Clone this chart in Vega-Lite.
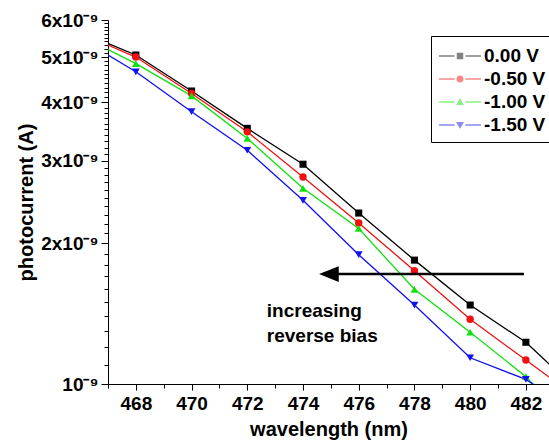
{
  "$schema": "https://vega.github.io/schema/vega-lite/v6.json",
  "width": 441,
  "height": 364,
  "autosize": {"type": "none"},
  "padding": {"left": 108, "top": 20, "right": 0, "bottom": 62},
  "background": "white",
  "config": {
    "view": {"stroke": null},
    "font": "Liberation Sans",
    "axis": {
      "grid": false,
      "domainColor": "black",
      "domainWidth": 1,
      "tickColor": "black",
      "tickWidth": 1,
      "labelColor": "black",
      "titleColor": "black",
      "labelFont": "Liberation Sans",
      "titleFont": "Liberation Sans",
      "labelFontSize": 19,
      "labelFontWeight": "bold",
      "titleFontSize": 20,
      "titleFontWeight": "bold",
      "labelOverlap": false,
      "labelFlush": false
    }
  },
  "datasets": {
    "curves": [
      {"wl": 466, "I": 5.66e-9, "bias": "0.00 V"},
      {"wl": 468, "I": 5.05e-9, "bias": "0.00 V"},
      {"wl": 470, "I": 4.23e-9, "bias": "0.00 V"},
      {"wl": 472, "I": 3.52e-9, "bias": "0.00 V"},
      {"wl": 474, "I": 2.95e-9, "bias": "0.00 V"},
      {"wl": 476, "I": 2.32e-9, "bias": "0.00 V"},
      {"wl": 478, "I": 1.84e-9, "bias": "0.00 V"},
      {"wl": 480, "I": 1.475e-9, "bias": "0.00 V"},
      {"wl": 482, "I": 1.228e-9, "bias": "0.00 V"},
      {"wl": 484, "I": 0.95e-9, "bias": "0.00 V"},
      {"wl": 466, "I": 5.62e-9, "bias": "-0.50 V"},
      {"wl": 468, "I": 5.0e-9, "bias": "-0.50 V"},
      {"wl": 470, "I": 4.18e-9, "bias": "-0.50 V"},
      {"wl": 472, "I": 3.46e-9, "bias": "-0.50 V"},
      {"wl": 474, "I": 2.77e-9, "bias": "-0.50 V"},
      {"wl": 476, "I": 2.21e-9, "bias": "-0.50 V"},
      {"wl": 478, "I": 1.746e-9, "bias": "-0.50 V"},
      {"wl": 480, "I": 1.375e-9, "bias": "-0.50 V"},
      {"wl": 482, "I": 1.125e-9, "bias": "-0.50 V"},
      {"wl": 484, "I": 0.92e-9, "bias": "-0.50 V"},
      {"wl": 466, "I": 5.56e-9, "bias": "-1.00 V"},
      {"wl": 468, "I": 4.84e-9, "bias": "-1.00 V"},
      {"wl": 470, "I": 4.13e-9, "bias": "-1.00 V"},
      {"wl": 472, "I": 3.35e-9, "bias": "-1.00 V"},
      {"wl": 474, "I": 2.62e-9, "bias": "-1.00 V"},
      {"wl": 476, "I": 2.15e-9, "bias": "-1.00 V"},
      {"wl": 478, "I": 1.594e-9, "bias": "-1.00 V"},
      {"wl": 480, "I": 1.29e-9, "bias": "-1.00 V"},
      {"wl": 482, "I": 1.037e-9, "bias": "-1.00 V"},
      {"wl": 484, "I": 0.78e-9, "bias": "-1.00 V"},
      {"wl": 466, "I": 5.48e-9, "bias": "-1.50 V"},
      {"wl": 468, "I": 4.65e-9, "bias": "-1.50 V"},
      {"wl": 470, "I": 3.82e-9, "bias": "-1.50 V"},
      {"wl": 472, "I": 3.16e-9, "bias": "-1.50 V"},
      {"wl": 474, "I": 2.47e-9, "bias": "-1.50 V"},
      {"wl": 476, "I": 1.89e-9, "bias": "-1.50 V"},
      {"wl": 478, "I": 1.475e-9, "bias": "-1.50 V"},
      {"wl": 480, "I": 1.138e-9, "bias": "-1.50 V"},
      {"wl": 482, "I": 1.023e-9, "bias": "-1.50 V"},
      {"wl": 484, "I": 0.85e-9, "bias": "-1.50 V"}
    ],
    "arrowline": [
      {"wl": 475.1, "wl2": 481.93, "I": 1.718e-9}
    ],
    "arrowhead": [
      {"wl": 474.93, "I": 1.718e-9}
    ],
    "notes": [
      {"wl": 472.7, "I": 1.393e-9, "label": "increasing"},
      {"wl": 472.7, "I": 1.231e-9, "label": "reverse bias"}
    ]
  },
  "layer": [
    {
      "data": {"name": "curves"},
      "transform": [{"filter": "false"}],
      "mark": {"type": "point", "filled": true, "clip": true, "size": 576},
      "encoding": {
        "x": {
          "field": "wl",
          "type": "quantitative",
          "scale": {"domain": [467, 482.83], "nice": false, "zero": false},
          "axis": {
            "title": "wavelength (nm)",
            "tickCount": 16,
            "labelExpr": "abs(datum.value/2 - round(datum.value/2)) < 0.01 ? datum.label : ''",
            "tickSize": {"condition": {"test": "abs(datum.value/2 - round(datum.value/2)) < 0.01", "value": 6}, "value": 4},
            "labelPadding": 4,
            "titlePadding": 6
          }
        },
        "y": {
          "field": "I",
          "type": "quantitative",
          "scale": {"type": "log", "domain": [1e-9, 6e-9], "nice": false},
          "axis": {
            "title": "photocurrent (A)",
            "values": [1e-9, 1.1e-9, 1.2e-9, 1.3e-9, 1.4e-9, 1.5e-9, 1.6e-9, 1.7e-9, 1.8e-9, 1.9e-9, 2e-9, 2.1e-9, 2.2e-9, 2.3e-9, 2.4e-9, 2.5e-9, 2.6e-9, 2.7e-9, 2.8e-9, 2.9e-9, 3e-9, 3.1e-9, 3.2e-9, 3.3e-9, 3.4e-9, 3.5e-9, 3.6e-9, 3.7e-9, 3.8e-9, 3.9e-9, 4e-9, 4.1e-9, 4.2e-9, 4.3e-9, 4.4e-9, 4.5e-9, 4.6e-9, 4.7e-9, 4.8e-9, 4.9e-9, 5e-9, 5.1e-9, 5.2e-9, 5.3e-9, 5.4e-9, 5.5e-9, 5.6e-9, 5.7e-9, 5.8e-9, 5.9e-9, 6e-9],
            "labelExpr": "abs(datum.value*1e9 - round(datum.value*1e9)) < 0.01 ? (round(datum.value*1e9) == 1 ? '10⁻⁹' : round(datum.value*1e9) + 'x10⁻⁹') : ''",
            "tickSize": {"condition": {"test": "abs(datum.value*1e9 - round(datum.value*1e9)) < 0.01", "value": 7}, "value": 4},
            "labelPadding": 3,
            "titlePadding": 4
          }
        },
        "color": {
          "field": "bias",
          "type": "nominal",
          "scale": {
            "domain": ["0.00 V", "-0.50 V", "-1.00 V", "-1.50 V"],
            "range": ["#000000", "#f01010", "#10e010", "#1010f0"]
          },
          "legend": {
            "title": null,
            "orient": "none",
            "legendX": 323,
            "legendY": 16,
            "strokeColor": "black",
            "fillColor": "white",
            "padding": 7,
            "symbolSize": 576,
            "symbolOpacity": 1,
            "rowPadding": 0,
            "labelOffset": 20,
            "labelFontSize": 19,
            "labelFontWeight": "bold",
            "labelFont": "Liberation Sans",
            "labelColor": "black"
          }
        },
        "shape": {
          "field": "bias",
          "type": "nominal",
          "scale": {
            "domain": ["0.00 V", "-0.50 V", "-1.00 V", "-1.50 V"],
            "range": [
              "M-1,-0.055H0.3V0.055H-1Z M1.2,-0.055H2.5V0.055H1.2Z M0.48,-0.27H1.02V0.27H0.48Z",
              "M-1,-0.055H0.3V0.055H-1Z M1.2,-0.055H2.5V0.055H1.2Z M0.45,0A0.3,0.3 0 1,0 1.05,0A0.3,0.3 0 1,0 0.45,0Z",
              "M-1,-0.055H0.3V0.055H-1Z M1.2,-0.055H2.5V0.055H1.2Z M0.75,-0.32L1.08,0.25H0.42Z",
              "M-1,-0.055H0.3V0.055H-1Z M1.2,-0.055H2.5V0.055H1.2Z M0.75,0.32L1.08,-0.25H0.42Z"
            ]
          }
        }
      }
    },
    {
      "data": {"name": "curves"},
      "transform": [{"filter": "datum.bias === '0.00 V'"}],
      "mark": {"type": "line", "clip": true, "strokeWidth": 1.3, "color": "#000000"},
      "encoding": {
        "x": {"field": "wl", "type": "quantitative"},
        "y": {"field": "I", "type": "quantitative"}
      }
    },
    {
      "data": {"name": "curves"},
      "transform": [{"filter": "datum.bias === '-0.50 V'"}],
      "mark": {"type": "line", "clip": true, "strokeWidth": 1.3, "color": "#f01010"},
      "encoding": {
        "x": {"field": "wl", "type": "quantitative"},
        "y": {"field": "I", "type": "quantitative"}
      }
    },
    {
      "data": {"name": "curves"},
      "transform": [{"filter": "datum.bias === '-1.00 V'"}],
      "mark": {"type": "line", "clip": true, "strokeWidth": 1.3, "color": "#10e010"},
      "encoding": {
        "x": {"field": "wl", "type": "quantitative"},
        "y": {"field": "I", "type": "quantitative"}
      }
    },
    {
      "data": {"name": "curves"},
      "transform": [{"filter": "datum.bias === '-1.50 V'"}],
      "mark": {"type": "line", "clip": true, "strokeWidth": 1.3, "color": "#1010f0"},
      "encoding": {
        "x": {"field": "wl", "type": "quantitative"},
        "y": {"field": "I", "type": "quantitative"}
      }
    },
    {
      "data": {"name": "curves"},
      "transform": [{"filter": "datum.bias === '0.00 V'"}],
      "mark": {"type": "point", "filled": true, "clip": true, "size": 50, "opacity": 1, "shape": "square", "color": "#000000"},
      "encoding": {
        "x": {"field": "wl", "type": "quantitative"},
        "y": {"field": "I", "type": "quantitative"}
      }
    },
    {
      "data": {"name": "curves"},
      "transform": [{"filter": "datum.bias === '-0.50 V'"}],
      "mark": {"type": "point", "filled": true, "clip": true, "size": 55, "opacity": 1, "shape": "circle", "color": "#f01010"},
      "encoding": {
        "x": {"field": "wl", "type": "quantitative"},
        "y": {"field": "I", "type": "quantitative"}
      }
    },
    {
      "data": {"name": "curves"},
      "transform": [{"filter": "datum.bias === '-1.00 V'"}],
      "mark": {"type": "point", "filled": true, "clip": true, "size": 60, "opacity": 1, "shape": "triangle-up", "color": "#10e010"},
      "encoding": {
        "x": {"field": "wl", "type": "quantitative"},
        "y": {"field": "I", "type": "quantitative"}
      }
    },
    {
      "data": {"name": "curves"},
      "transform": [{"filter": "datum.bias === '-1.50 V'"}],
      "mark": {"type": "point", "filled": true, "clip": true, "size": 60, "opacity": 1, "shape": "triangle-down", "color": "#1010f0"},
      "encoding": {
        "x": {"field": "wl", "type": "quantitative"},
        "y": {"field": "I", "type": "quantitative"}
      }
    },
    {
      "data": {"name": "arrowline"},
      "mark": {"type": "rule", "color": "black", "strokeWidth": 2.5},
      "encoding": {
        "x": {"field": "wl", "type": "quantitative"},
        "x2": {"field": "wl2"},
        "y": {"field": "I", "type": "quantitative"}
      }
    },
    {
      "data": {"name": "arrowhead"},
      "mark": {"type": "point", "filled": true, "color": "black", "opacity": 1, "size": 388, "shape": "M-1,0L1,-0.8L1,0.8Z"},
      "encoding": {
        "x": {"field": "wl", "type": "quantitative"},
        "y": {"field": "I", "type": "quantitative"}
      }
    },
    {
      "data": {"name": "notes"},
      "mark": {"type": "text", "align": "left", "baseline": "alphabetic", "font": "Liberation Sans", "fontSize": 19, "fontWeight": "bold", "color": "black"},
      "encoding": {
        "x": {"field": "wl", "type": "quantitative"},
        "y": {"field": "I", "type": "quantitative"},
        "text": {"field": "label"}
      }
    }
  ]
}
